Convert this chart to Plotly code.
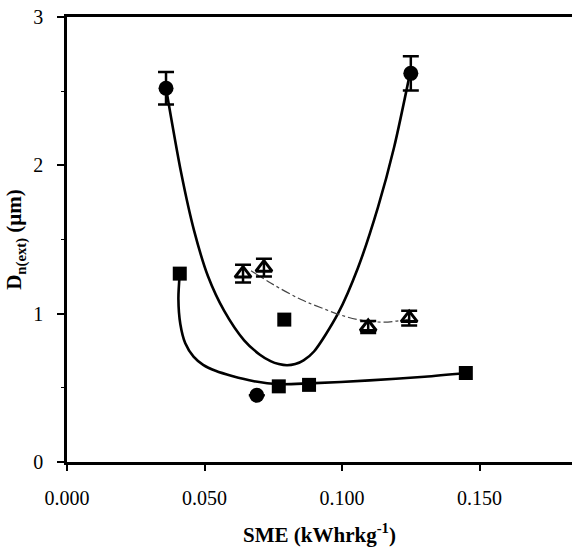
import plotly.graph_objects as go

# Measured points (SME in kWh/kg, droplet diameter in micrometres)
circle_x = [0.036, 0.069, 0.125]
circle_y = [2.52, 0.45, 2.62]
circle_err = [0.11, 0.0, 0.115]

square_x = [0.041, 0.077, 0.079, 0.088, 0.145]
square_y = [1.27, 0.51, 0.96, 0.52, 0.60]
square_err = [0.0, 0.0, 0.03, 0.0, 0.0]

tri_x = [0.064, 0.0716, 0.1095, 0.1244]
tri_y = [1.27, 1.31, 0.91, 0.97]
tri_err = [0.06, 0.06, 0.04, 0.05]

# Hand-drawn trend curves
circle_curve_x = [0.036, 0.0415, 0.0462, 0.0513, 0.0571, 0.0644, 0.0700, 0.0740, 0.0770,
                  0.0800, 0.0830, 0.0860, 0.0898, 0.0985, 0.1058, 0.1131, 0.1189, 0.1247]
circle_curve_y = [2.52, 1.95, 1.56, 1.25, 1.02, 0.82, 0.725, 0.68, 0.66,
                  0.652, 0.66, 0.685, 0.745, 1.00, 1.31, 1.72, 2.12, 2.62]

square_curve_x = [0.041, 0.0405, 0.0412, 0.0430, 0.0460, 0.0495, 0.0540, 0.0600,
                  0.0680, 0.0770, 0.0880, 0.1100, 0.1300, 0.1450]
square_curve_y = [1.27, 1.10, 0.93, 0.80, 0.71, 0.655, 0.615, 0.58,
                  0.545, 0.525, 0.53, 0.55, 0.575, 0.60]

tri_curve_x = [0.0669, 0.0742, 0.0851, 0.0924, 0.0996, 0.1069, 0.1153, 0.1244]
tri_curve_y = [1.29, 1.205, 1.095, 1.04, 0.99, 0.956, 0.943, 0.963]

x_ticks = [0.0, 0.05, 0.10, 0.15]
x_tick_labels = ["0.000", "0.050", "0.100", "0.150"]
y_ticks = [0, 1, 2, 3]

FONT = "Liberation Serif"

fig = go.Figure()

fig.add_trace(go.Scatter(x=circle_curve_x, y=circle_curve_y, mode="lines",
                         line=dict(color="black", width=2.6, shape="spline", smoothing=0.8),
                         hoverinfo="skip"))
fig.add_trace(go.Scatter(x=square_curve_x, y=square_curve_y, mode="lines",
                         line=dict(color="black", width=2.6, shape="spline", smoothing=0.8),
                         hoverinfo="skip"))
fig.add_trace(go.Scatter(x=tri_curve_x, y=tri_curve_y, mode="lines",
                         line=dict(color="#444444", width=1.2, dash="dashdot",
                                   shape="spline", smoothing=1.0),
                         hoverinfo="skip"))

fig.add_trace(go.Scatter(x=circle_x, y=circle_y, mode="markers",
                         marker=dict(symbol="circle", size=15, color="black"),
                         error_y=dict(type="data", array=circle_err, color="black",
                                      thickness=2.5, width=8)))
fig.add_trace(go.Scatter(x=square_x, y=square_y, mode="markers",
                         marker=dict(symbol="square", size=14, color="black"),
                         error_y=dict(type="data", array=square_err, color="black",
                                      thickness=2.0, width=5)))
fig.add_trace(go.Scatter(x=tri_x, y=tri_y, mode="markers",
                         marker=dict(symbol="triangle-up-open", size=14, color="black",
                                     line=dict(width=3, color="black")),
                         error_y=dict(type="data", array=tri_err, color="black",
                                      thickness=2.5, width=8)))

fig.update_layout(
    width=572, height=552,
    margin=dict(l=67, r=0, t=17, b=90),
    paper_bgcolor="white", plot_bgcolor="white",
    showlegend=False,
    font=dict(family=FONT, size=20, color="black"),
    xaxis=dict(
        range=[0, 0.1836],
        tickvals=x_ticks, ticktext=x_tick_labels,
        ticks="outside", ticklen=6, tickwidth=1.5, tickcolor="black",
        showline=True, linewidth=2.5, linecolor="black", mirror=True,
        showgrid=False, zeroline=False,
        ticklabelstandoff=10,
        title=dict(text="<b>SME (kWhrkg<sup>-1</sup>)</b>", font=dict(family=FONT, size=21),
                   standoff=20),
    ),
    yaxis=dict(
        range=[0, 3],
        tickvals=y_ticks,
        ticks="outside", ticklen=7, tickwidth=1.5, tickcolor="black",
        minor=dict(dtick=0.5, ticks="outside", ticklen=3, tickwidth=1.2, tickcolor="black"),
        showline=True, linewidth=2.5, linecolor="black", mirror=False,
        showgrid=False, zeroline=False,
        ticklabelstandoff=10,
        title=dict(text="<b>D<sub>n(ext)</sub> (µm)</b>", font=dict(family=FONT, size=21),
                   standoff=6),
    ),
)

fig.write_html("out.html")
